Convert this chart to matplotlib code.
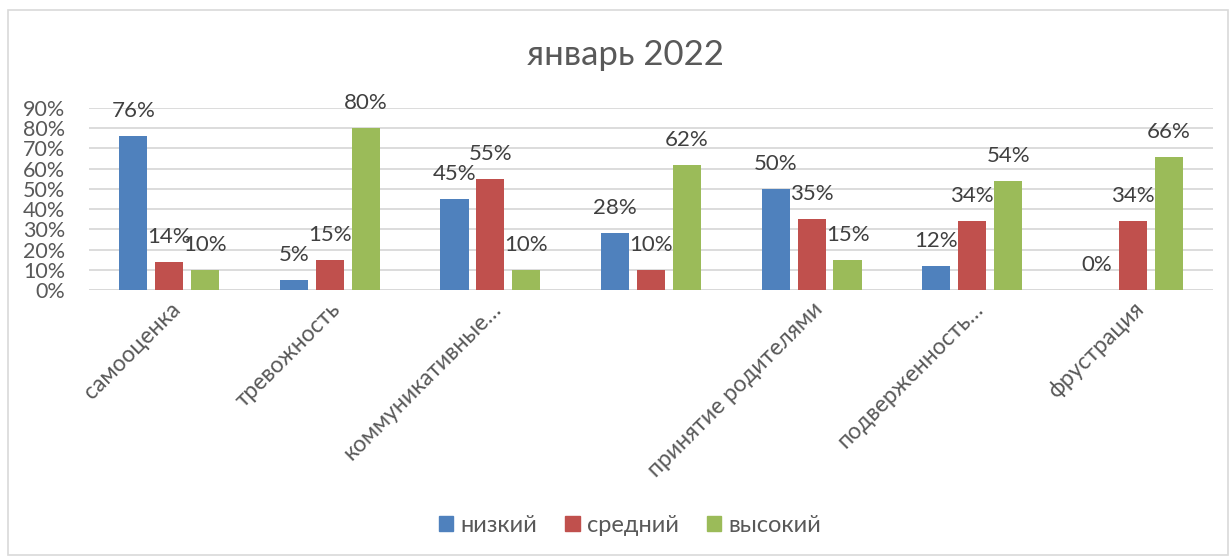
import matplotlib
matplotlib.use("Agg")
import matplotlib.pyplot as plt
import numpy as np
from matplotlib.patches import Rectangle

plt.rcParams['font.family'] = ['Lato', 'DejaVu Sans']

categories = ["самооценка", "тревожность", "коммуникативные…", "",
              "принятие родителями", "подверженность…", "фрустрация"]
series_names = ["низкий", "средний", "высокий"]
low = [0.76, 0.05, 0.45, 0.28, 0.50, 0.12, 0.00]
mid = [0.14, 0.15, 0.55, 0.10, 0.35, 0.34, 0.34]
high = [0.10, 0.80, 0.10, 0.62, 0.15, 0.54, 0.66]
colors = ["#4F81BD", "#C0504D", "#9BBB59"]
yticks = [0, 0.1, 0.2, 0.3, 0.4, 0.5, 0.6, 0.7, 0.8, 0.9]

W, H = 1230, 558
fig = plt.figure(figsize=(W / 100, H / 100), dpi=100)
fig.patches.append(Rectangle((8 / W, 3 / H), 1220 / W, 545 / H, transform=fig.transFigure,
                             facecolor='none', edgecolor='#D9D9D9', lw=1.2))
ax = fig.add_axes([89 / W, 1 - 290 / H, 1124 / W, 182 / H])

x = np.arange(len(categories))
bw = 0.175
step = 0.224
txt = '#404040'
for i, (vals, c, name) in enumerate(zip([low, mid, high], colors, series_names)):
    pos = x + (i - 1) * step
    ax.bar(pos, vals, width=bw, color=c, label=name, zorder=3)
    for p, v in zip(pos, vals):
        ax.annotate(f"{int(round(v * 100))}%", (p, v), xytext=(0, 25), textcoords='offset pixels',
                    ha='center', va='center', fontsize=16, color=txt)

ax.set_xlim(-0.5, len(categories) - 0.5)
ax.set_ylim(0, 0.9)
ax.set_yticks(yticks)
ax.set_yticklabels([f"{int(round(t * 100))}%" for t in yticks], fontsize=15.5, color='#595959')
ax.yaxis.grid(True, color='#D9D9D9', lw=1.3, zorder=0)
ax.set_axisbelow(True)
ax.set_xticks(x)
ax.set_xticklabels(categories, rotation=45, ha='right', rotation_mode='anchor',
                   fontsize=16.5, color='#595959')
ax.tick_params(axis='x', length=0, pad=6)
ax.tick_params(axis='y', length=0, pad=17)
for s in ax.spines.values():
    s.set_visible(False)
ax.axhline(0, color='#D9D9D9', lw=1.3, zorder=1)

fig.text(625 / W, 1 - 55 / H, "январь 2022", ha='center', va='center', fontsize=25, color='#595959')

handles = [Rectangle((0, 0), 1, 1, color=c) for c in colors]
fig.legend(handles, series_names, loc='center', bbox_to_anchor=(630 / W, 1 - 525 / H), ncol=3,
           frameon=False, fontsize=17, labelcolor='#595959', handlelength=0.6, handleheight=0.6,
           handletextpad=0.3, columnspacing=1.2)

fig.savefig("out.png", dpi=100)
